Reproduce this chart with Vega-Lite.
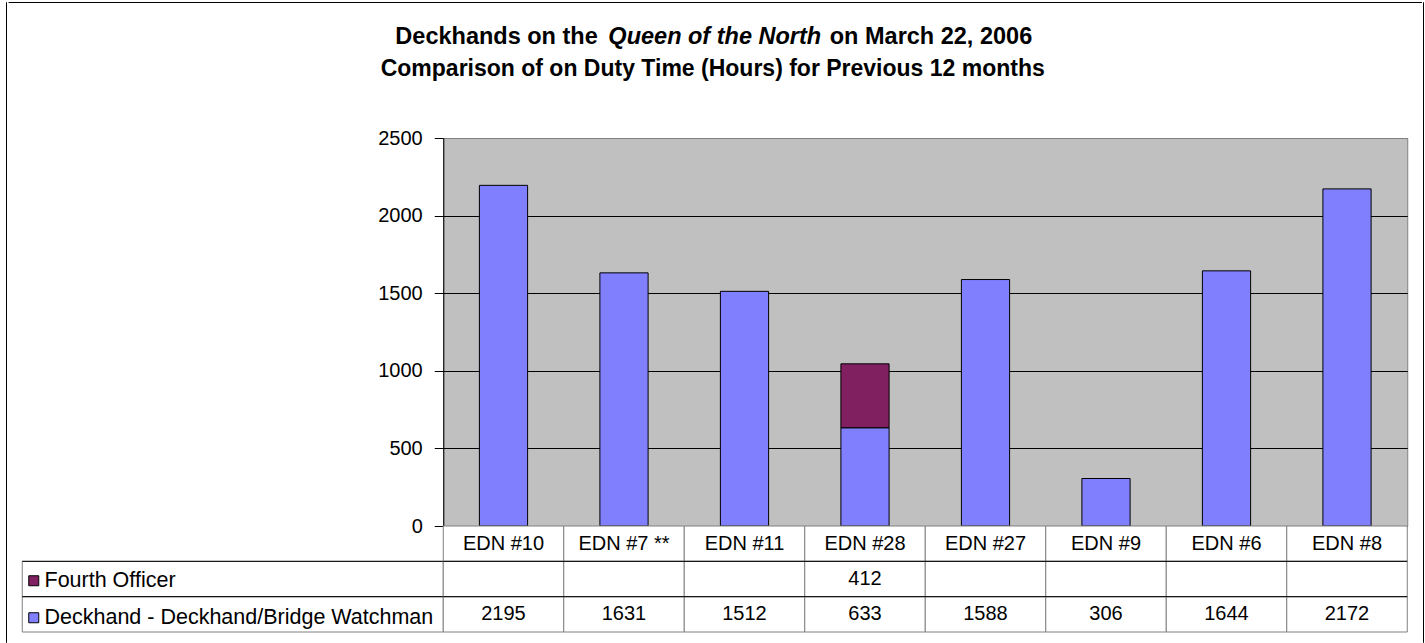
{
  "$schema": "https://vega.github.io/schema/vega-lite/v6.json",
  "padding": {"left": 5, "top": 1, "right": 0, "bottom": 0},
  "background": "white",
  "config": {"view": {"stroke": null}, "font": "Liberation Sans"},
  "datasets": {
    "main": [
      {"category": "EDN #10", "series": "Deckhand - Deckhand/Bridge Watchman", "value": 2195},
      {"category": "EDN #10", "series": "Fourth Officer", "value": null},
      {"category": "EDN #7 **", "series": "Deckhand - Deckhand/Bridge Watchman", "value": 1631},
      {"category": "EDN #7 **", "series": "Fourth Officer", "value": null},
      {"category": "EDN #11", "series": "Deckhand - Deckhand/Bridge Watchman", "value": 1512},
      {"category": "EDN #11", "series": "Fourth Officer", "value": null},
      {"category": "EDN #28", "series": "Deckhand - Deckhand/Bridge Watchman", "value": 633},
      {"category": "EDN #28", "series": "Fourth Officer", "value": 412},
      {"category": "EDN #27", "series": "Deckhand - Deckhand/Bridge Watchman", "value": 1588},
      {"category": "EDN #27", "series": "Fourth Officer", "value": null},
      {"category": "EDN #9", "series": "Deckhand - Deckhand/Bridge Watchman", "value": 306},
      {"category": "EDN #9", "series": "Fourth Officer", "value": null},
      {"category": "EDN #6", "series": "Deckhand - Deckhand/Bridge Watchman", "value": 1644},
      {"category": "EDN #6", "series": "Fourth Officer", "value": null},
      {"category": "EDN #8", "series": "Deckhand - Deckhand/Bridge Watchman", "value": 2172},
      {"category": "EDN #8", "series": "Fourth Officer", "value": null}
    ],
    "title": [
      {"line": "1", "part": "a", "text": "Deckhands on the"},
      {"line": "1", "part": "b", "text": "Queen of the North"},
      {"line": "1", "part": "c", "text": "on March 22, 2006"},
      {"line": "2", "part": "d", "text": "Comparison of on Duty Time (Hours) for Previous 12 months"}
    ]
  },
  "spacing": 0,
  "hconcat": [
    {
      "width": 0.01,
      "height": 640,
      "data": {"values": []},
      "mark": "point",
      "encoding": {},
      "view": {"stroke": "black", "strokeWidth": 1, "fill": null}
    },
    {
      "spacing": 18,
      "center": true,
      "vconcat": [
        {
          "width": 1413,
          "height": 0.01,
          "data": {"values": []},
          "mark": "point",
          "encoding": {},
          "view": {"stroke": "black", "strokeWidth": 1, "fill": null}
        },
        {
          "spacing": 42,
          "vconcat": [
            {
              "width": 1385,
              "height": 64,
              "data": {"name": "title"},
              "encoding": {
                "y": {"field": "line", "type": "ordinal", "scale": {"type": "point", "domain": ["1", "2"], "padding": 0.5}, "axis": null},
                "text": {"field": "text"}
              },
              "layer": [
                {
                  "transform": [{"filter": "datum.part === 'a'"}],
                  "mark": {"type": "text", "font": "Liberation Sans", "fontSize": 23.5, "fontWeight": "bold", "align": "right", "baseline": "middle", "dx": -117, "color": "black"}
                },
                {
                  "transform": [{"filter": "datum.part === 'b'"}],
                  "mark": {"type": "text", "font": "Liberation Sans", "fontSize": 23.5, "fontWeight": "bold", "fontStyle": "italic", "align": "center", "baseline": "middle", "dx": 0, "color": "black"}
                },
                {
                  "transform": [{"filter": "datum.part === 'c'"}],
                  "mark": {"type": "text", "font": "Liberation Sans", "fontSize": 23.5, "fontWeight": "bold", "align": "left", "baseline": "middle", "dx": 115, "color": "black"}
                },
                {
                  "transform": [{"filter": "datum.part === 'd'"}],
                  "mark": {"type": "text", "font": "Liberation Sans", "fontSize": 23, "fontWeight": "bold", "align": "center", "baseline": "middle", "dx": -2, "color": "black"}
                }
              ]
            },
            {
              "columns": 2,
              "spacing": 0,
              "bounds": "flush",
              "concat": [
                {
                  "width": 421,
                  "height": 388,
                  "data": {"values": []},
                  "mark": "point",
                  "encoding": {}
                },
                {
                  "width": 964,
                  "height": 388,
                  "data": {"name": "main"},
                  "view": {"fill": "#C0C0C0", "stroke": "#808080"},
                  "mark": {"type": "bar", "stroke": "black", "strokeWidth": 1},
                  "encoding": {
                    "x": {
                      "field": "category", "type": "nominal",
                      "scale": {"domain": ["EDN #10", "EDN #7 **", "EDN #11", "EDN #28", "EDN #27", "EDN #9", "EDN #6", "EDN #8"], "paddingInner": 0.6, "paddingOuter": 0.3},
                      "axis": {"labels": false, "ticks": false, "domain": true, "domainColor": "black", "title": null, "grid": false}
                    },
                    "y": {
                      "field": "value", "type": "quantitative", "stack": "zero",
                      "scale": {"domain": [0, 2500], "nice": false},
                      "axis": {
                        "values": [0, 500, 1000, 1500, 2000, 2500],
                        "format": "d",
                        "title": null,
                        "labelFontSize": 20,
                        "labelFont": "Liberation Sans",
                        "labelColor": "black",
                        "tickColor": "black",
                        "tickSize": 9,
                        "labelPadding": 12,
                        "domainColor": "black",
                        "grid": true,
                        "gridColor": {"condition": {"test": "datum.value === 2500", "value": "#808080"}, "value": "black"},
                        "gridOpacity": 1
                      }
                    },
                    "color": {
                      "field": "series", "type": "nominal",
                      "scale": {"domain": ["Fourth Officer", "Deckhand - Deckhand/Bridge Watchman"], "range": ["#802060", "#8080FF"]},
                      "legend": {
                        "orient": "none",
                        "legendX": 17,
                        "legendY": 568,
                        "title": null,
                        "direction": "vertical",
                        "symbolType": "square",
                        "symbolSize": 100,
                        "symbolStrokeColor": "black",
                        "symbolStrokeWidth": 1,
                        "symbolOpacity": 1,
                        "labelFontSize": 21.5,
                        "labelFont": "Liberation Sans",
                        "labelColor": "black",
                        "labelOffset": 0,
                        "labelLimit": 420,
                        "rowPadding": 14,
                        "padding": 0
                      }
                    },
                    "order": {"field": "series", "sort": "ascending"}
                  }
                },
                {
                  "width": 421,
                  "height": 106,
                  "data": {"name": "main"},
                  "transform": [{"aggregate": [{"op": "count", "as": "n"}], "groupby": ["series"]}],
                  "layer": [
                    {
                      "mark": {"type": "rect", "fill": "transparent", "stroke": "#808080", "strokeWidth": 1},
                      "encoding": {
                        "y": {"field": "series", "type": "nominal", "scale": {"domain": ["hdr", "Fourth Officer", "Deckhand - Deckhand/Bridge Watchman"], "paddingInner": 0, "paddingOuter": 0}, "axis": null}
                      }
                    },
                    {
                      "mark": {"type": "rule", "color": "black", "strokeWidth": 1},
                      "encoding": {
                        "y": {"field": "series", "type": "nominal", "bandPosition": 0}
                      }
                    }
                  ]
                },
                {
                  "width": 964,
                  "height": 106,
                  "data": {"name": "main"},
                  "layer": [
                    {
                      "transform": [{"filter": "datum.series === 'Fourth Officer'"}],
                      "mark": {"type": "rect", "fill": "white", "stroke": "#808080", "strokeWidth": 1},
                      "encoding": {
                        "x": {"field": "category", "type": "nominal", "scale": {"domain": ["EDN #10", "EDN #7 **", "EDN #11", "EDN #28", "EDN #27", "EDN #9", "EDN #6", "EDN #8"], "paddingInner": 0, "paddingOuter": 0}, "axis": null},
                        "y": {"datum": "hdr", "type": "nominal", "scale": {"domain": ["hdr", "Fourth Officer", "Deckhand - Deckhand/Bridge Watchman"], "paddingInner": 0, "paddingOuter": 0}, "axis": null}
                      }
                    },
                    {
                      "mark": {"type": "rect", "fill": "white", "stroke": "#808080", "strokeWidth": 1},
                      "encoding": {
                        "x": {"field": "category", "type": "nominal"},
                        "y": {"field": "series", "type": "nominal"}
                      }
                    },
                    {
                      "transform": [{"aggregate": [{"op": "count", "as": "n"}], "groupby": ["series"]}],
                      "mark": {"type": "rule", "color": "black", "strokeWidth": 1},
                      "encoding": {
                        "y": {"field": "series", "type": "nominal", "bandPosition": 0}
                      }
                    },
                    {
                      "transform": [{"filter": "datum.series === 'Fourth Officer'"}],
                      "mark": {"type": "text", "font": "Liberation Sans", "fontSize": 20, "color": "black", "align": "center", "baseline": "middle"},
                      "encoding": {
                        "x": {"field": "category", "type": "nominal"},
                        "y": {"datum": "hdr", "type": "nominal"},
                        "text": {"field": "category"}
                      }
                    },
                    {
                      "transform": [{"filter": "isValid(datum.value)"}],
                      "mark": {"type": "text", "font": "Liberation Sans", "fontSize": 20, "color": "black", "align": "center", "baseline": "middle"},
                      "encoding": {
                        "x": {"field": "category", "type": "nominal"},
                        "y": {"field": "series", "type": "nominal"},
                        "text": {"field": "value", "type": "quantitative", "format": "d"}
                      }
                    }
                  ]
                }
              ]
            }
          ]
        }
      ]
    },
    {
      "width": 0.01,
      "height": 640,
      "data": {"values": []},
      "mark": "point",
      "encoding": {},
      "view": {"stroke": "black", "strokeWidth": 1, "fill": null}
    }
  ]
}
